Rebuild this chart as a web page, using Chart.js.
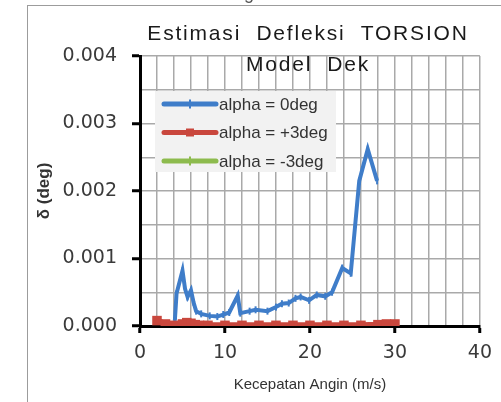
<!DOCTYPE html>
<html>
<head>
<meta charset="utf-8">
<script src="https://cdn.jsdelivr.net/npm/chart.js@4/dist/chart.umd.min.js"></script>
<style>
  html, body { margin: 0; padding: 0; background: #fff; }
  .wrap { position: relative; width: 501px; height: 402px; }
  .frame { position: absolute; left: 27px; top: 5px; right: 0; bottom: 0; border-left: 1.5px solid #9c9c9c; border-top: 1.5px solid #9c9c9c; }
  canvas { position: absolute; left: 0; top: 0; display: block; }
</style>
</head>
<body>
<div class="wrap">
  <div class="frame"></div>
  <canvas id="axes" width="501" height="402"></canvas>
  <canvas id="torsion" width="501" height="402"></canvas>
</div>
<script>
// wind speed (m/s) and torsion deflection (deg) for each angle of attack
const windSpeed0 = [4.1, 4.3, 5.0, 5.3, 5.6, 6.0, 6.3, 6.6, 7.2, 8.2, 9.1, 9.8, 10.5, 11.5, 11.8, 12.9, 13.6, 15.0, 16.0, 16.7, 17.5, 18.3, 18.9, 19.9, 20.8, 21.8, 22.6, 23.8, 24.8, 25.8, 26.8, 27.9];
const deflection0 = [0.00008, 0.00048, 0.00082, 0.00055, 0.00043, 0.00053, 0.00035, 0.00022, 0.00018, 0.00015, 0.00014, 0.00017, 0.00020, 0.00045, 0.00019, 0.00022, 0.00024, 0.00022, 0.00028, 0.00033, 0.00034, 0.00041, 0.00043, 0.00038, 0.00046, 0.00044, 0.00050, 0.00086, 0.00078, 0.00215, 0.00262, 0.00215];

const windSpeedPlus3 = [2, 3, 4, 5, 5.5, 6, 6.5, 7, 8, 10, 12, 14, 16, 18, 20, 22, 24, 26, 28, 29, 30];
const deflectionPlus3 = [0.00008, 0.00003, 0.00001, 0.00003, 0.00005, 0.00004, 0.00002, 0.00001, 0.00001, 0.00001, 0.00001, 0.00001, 0.00001, 0.00001, 0.00001, 0.00001, 0.00001, 0.00001, 0.00002, 0.00003, 0.00003];

const windSpeedMinus3 = [];
const deflectionMinus3 = [];

const seriesLabels = ["alpha = 0deg", "alpha = +3deg", "alpha = -3deg"];
const xTickLabels = [0, 10, 20, 30, 40];
const yTickLabels = ["0.000", "0.001", "0.002", "0.003", "0.004"];

function toPoints(xs, ys) {
    return xs.map((x, i) => ({ x: x, y: ys[i] }));
}

const isMajorX = v => xTickLabels.includes(Math.round(v));
const isMajorY = v => Math.round(v * 2000) % 2 === 0;

// shared scale setup; "visible" switches the grid, axes and text on or off
function makeScales(visible) {
    const textColor = visible ? "#3a3a3a" : "rgba(0,0,0,0)";
    return {
        x: {
            type: "linear",
            min: 0,
            max: 40,
            afterFit: scale => { scale.height = 76; },
            ticks: {
                stepSize: 2,
                autoSkip: false,
                maxRotation: 0,
                padding: 9,
                color: textColor,
                font: { family: "'DejaVu Sans'", size: 19 },
                callback: v => isMajorX(v) ? String(Math.round(v)) : ""
            },
            grid: {
                display: visible,
                color: "#a9a9a9",
                lineWidth: 1.5,
                drawTicks: true,
                tickLength: 7,
                tickWidth: 3,
                tickColor: c => (c.tick && isMajorX(c.tick.value)) ? "#000" : "rgba(0,0,0,0)"
            },
            border: { display: visible, color: "#000", width: 3 },
            title: {
                display: true,
                text: "Kecepatan Angin (m/s)",
                color: visible ? "#333" : "rgba(0,0,0,0)",
                font: { family: "'Liberation Sans'", size: 15 },
                padding: { top: 0, bottom: 8 }
            }
        },
        y: {
            type: "linear",
            min: 0,
            max: 0.004,
            afterFit: scale => { scale.width = 110; },
            ticks: {
                stepSize: 0.0005,
                autoSkip: false,
                padding: 15,
                color: textColor,
                font: { family: "'DejaVu Sans'", size: 19 },
                callback: v => isMajorY(v) ? yTickLabels[Math.round(v * 1000)] : ""
            },
            grid: {
                display: visible,
                color: "#a9a9a9",
                lineWidth: 1.5,
                drawTicks: true,
                tickLength: 8,
                tickWidth: 3,
                tickColor: c => (c.tick && isMajorY(c.tick.value)) ? "#000" : "rgba(0,0,0,0)"
            },
            border: { display: visible, color: "#000", width: 3 },
            title: {
                display: true,
                text: "δ (deg)",
                color: visible ? "#333" : "rgba(0,0,0,0)",
                font: { family: "'Liberation Sans'", size: 17, weight: "bold" },
                padding: { top: 4, bottom: 0 }
            }
        }
    };
}

const baseOptions = visible => ({
    responsive: false,
    animation: false,
    events: [],
    layout: { padding: { left: 30, top: 56, right: 19, bottom: 0 } },
    plugins: {
        legend: { display: false },
        title: { display: false },
        tooltip: { enabled: false }
    },
    elements: { line: { tension: 0 } },
    scales: makeScales(visible)
});

// two-line title (second line sits over the top of the plot) and the clipped caption letter
const titlePlugin = {
    id: "titleLines",
    afterDraw(chart) {
        const ctx = chart.ctx;
        ctx.save();
        ctx.fillStyle = "#555";
        ctx.font = "18px 'Liberation Sans'";
        ctx.textAlign = "center";
        ctx.fillText("g", 249, -1);
        ctx.fillStyle = "#1a1a1a";
        ctx.font = "21px 'Liberation Sans'";
        ctx.letterSpacing = "1.8px";
        ctx.fillText("Estimasi  Defleksi  TORSION", 308, 40);
        ctx.fillText("Model  Dek", 308, 71);
        ctx.restore();
    }
};

// legend box inside the plot area
const legendPlugin = {
    id: "innerLegend",
    afterDatasetsDraw(chart) {
        const ctx = chart.ctx;
        ctx.save();
        ctx.fillStyle = "#f2f2f2";
        ctx.fillRect(155, 91, 181, 81);
        ctx.font = "17px 'Liberation Sans'";
        ctx.textBaseline = "middle";
        ctx.textAlign = "left";
        chart.data.datasets.forEach((ds, i) => {
            const y = 104 + i * 28.5;
            ctx.strokeStyle = ds.borderColor;
            ctx.lineWidth = 5;
            ctx.lineCap = "round";
            ctx.beginPath();
            ctx.moveTo(164, y);
            ctx.lineTo(216, y);
            ctx.stroke();
            ctx.fillStyle = ds.borderColor;
            if (ds.pointStyle === "rect") {
                ctx.fillRect(186, y - 4, 8, 8);
            } else {
                ctx.lineWidth = 2;
                ctx.lineCap = "butt";
                ctx.beginPath();
                ctx.moveTo(190, y - 4.5);
                ctx.lineTo(190, y + 4.5);
                ctx.stroke();
            }
            ctx.fillStyle = "#333";
            ctx.fillText(ds.label, 219, y + 1);
        });
        ctx.restore();
    }
};

// bottom layer: grid, axes, tick labels and axis titles
const axesChart = new Chart(document.getElementById("axes").getContext("2d"), {
    type: "scatter",
    data: { datasets: [] },
    options: baseOptions(true)
});

// top layer: the three series, legend and title, on the same layout
const chart = new Chart(document.getElementById("torsion").getContext("2d"), {
    type: "scatter",
    data: {
        datasets: [{
            label: seriesLabels[0],
            data: toPoints(windSpeed0, deflection0),
            showLine: true,
            borderColor: "#3f7dc9",
            backgroundColor: "#3f7dc9",
            borderWidth: 4,
            pointStyle: "line",
            rotation: 90,
            pointRadius: 3.5,
            pointBorderWidth: 2,
            order: 2
        }, {
            label: seriesLabels[1],
            data: toPoints(windSpeedPlus3, deflectionPlus3),
            showLine: true,
            borderColor: "#c9473d",
            backgroundColor: "#c9473d",
            borderWidth: 6,
            pointStyle: "rect",
            pointRadius: 2.5,
            order: 1
        }, {
            label: seriesLabels[2],
            data: toPoints(windSpeedMinus3, deflectionMinus3),
            showLine: true,
            borderColor: "#8dbb4e",
            backgroundColor: "#8dbb4e",
            borderWidth: 4,
            pointStyle: "line",
            rotation: 90,
            pointRadius: 3.5,
            order: 0
        }]
    },
    options: baseOptions(false),
    plugins: [legendPlugin, titlePlugin]
});
</script>
</body>
</html>
